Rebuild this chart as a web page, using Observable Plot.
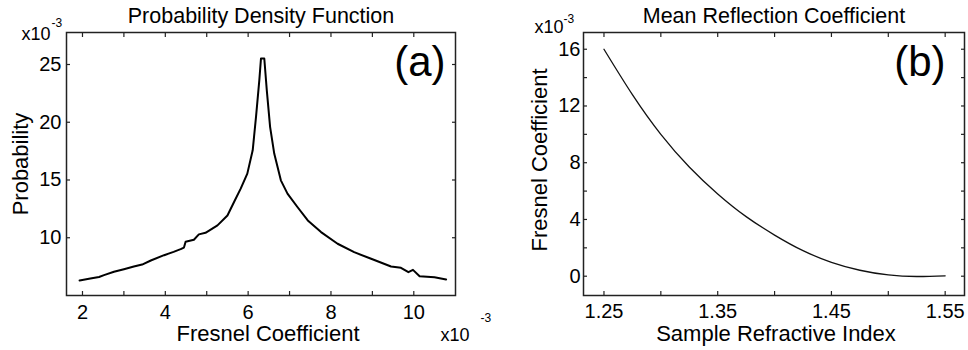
<!DOCTYPE html>
<html>
<head>
<meta charset="utf-8">
<script src="https://cdn.jsdelivr.net/npm/d3@7"></script>
<script src="https://cdn.jsdelivr.net/npm/@observablehq/plot@0.6"></script>
<style>
  html, body { margin: 0; padding: 0; background: #fff; }
  #wrap { display: flex; width: 968px; height: 350px; }
  #wrap svg { display: block; }
</style>
</head>
<body>
<div id="wrap"></div>
<script>
// ---------- Panel (a): Probability Density Function ----------
const fresnelA = [1.93, 2.19, 2.40, 2.52, 2.76, 3.00, 3.24, 3.44, 3.65, 3.97, 4.20, 4.37, 4.45, 4.49, 4.69, 4.81, 4.97, 5.26, 5.50, 5.66, 5.82, 5.98, 6.11, 6.19, 6.27, 6.31, 6.39, 6.45, 6.53, 6.63, 6.79, 6.95, 7.19, 7.44, 7.76, 8.16, 8.56, 8.97, 9.45, 9.69, 9.87, 9.98, 10.14, 10.50, 10.78];
const probA = [6.30, 6.47, 6.60, 6.76, 7.05, 7.28, 7.51, 7.68, 8.03, 8.49, 8.78, 9.01, 9.15, 9.65, 9.83, 10.29, 10.43, 11.07, 11.93, 13.09, 14.25, 15.55, 17.57, 20.46, 23.64, 25.52, 25.52, 22.78, 19.60, 17.29, 14.97, 13.82, 12.66, 11.50, 10.49, 9.48, 8.75, 8.18, 7.51, 7.40, 7.02, 7.22, 6.67, 6.58, 6.38];
const xTicksA = [2, 3, 4, 5, 6, 7, 8, 9, 10];
const xLabelsA = [2, 4, 6, 8, 10];
const yTicksA = [10, 15, 20, 25];

// ---------- Panel (b): Mean Reflection Coefficient ----------
const indexB = [1.25, 1.275, 1.30, 1.325, 1.35, 1.375, 1.40, 1.425, 1.45, 1.475, 1.50, 1.525, 1.55];
const coefB = [16.0, 12.8, 10.0, 7.7, 5.8, 4.2, 2.9, 1.8, 0.98, 0.42, 0.09, -0.02, 0.03];
const xTicksB = [1.25, 1.30, 1.35, 1.40, 1.45, 1.50, 1.55];
const xLabelsB = [1.25, 1.35, 1.45, 1.55];
const yTicksB = [0, 2, 4, 6, 8, 10, 12, 14, 16];
const yLabelsB = [0, 4, 8, 12, 16];

const FONT = "Liberation Sans, Arial, Helvetica, sans-serif";
const FRAME = "#222";

function inwardTicks(xt, yt) {
  const o = {tickSize: -4, tickFormat: () => "", label: null, stroke: FRAME, strokeWidth: 1.2, fontFamily: FONT};
  return [
    Plot.axisX(xt, {anchor: "bottom", ...o}),
    Plot.axisX(xt, {anchor: "top", ...o}),
    Plot.axisY(yt, {anchor: "left", ...o}),
    Plot.axisY(yt, {anchor: "right", ...o})
  ];
}
function txt(extra) {
  return {textAnchor: "middle", lineAnchor: "middle", fontFamily: FONT, fill: "#000", ...extra};
}

// Panel a
const dataA = fresnelA.map((x, i) => ({x, y: probA[i]}));
const plotA = Plot.plot({
  width: 500, height: 350,
  marginTop: 32, marginRight: 45, marginBottom: 55, marginLeft: 66,
  x: {domain: [1.614, 11.007]},
  y: {domain: [5.0, 27.77]},
  marks: [
    Plot.axisX(xLabelsA, {anchor: "bottom", tickSize: 0, tickPadding: 9, label: null, fontSize: 20, fontFamily: FONT, fill: "#000", tickFormat: d => d}),
    Plot.axisY(yTicksA, {anchor: "left", tickSize: 0, tickPadding: 5, label: null, fontSize: 20, fontFamily: FONT, fill: "#000", tickFormat: d => d}),
    Plot.line(dataA, {x: "x", y: "y", stroke: "#000", strokeWidth: 2}),
    Plot.text(["Probability Density Function"], txt({frameAnchor: "top", dy: -16, fontSize: 21.5})),
    Plot.text(["Fresnel Coefficient"], txt({frameAnchor: "bottom", dy: 38, dx: 7, fontSize: 22})),
    Plot.text(["Probability"], txt({frameAnchor: "left", rotate: -90, dx: -46, fontSize: 22})),
    Plot.text(["(a)"], txt({frameAnchor: "top-right", textAnchor: "end", lineAnchor: "top", dx: -10, dy: 14, fontSize: 42})),
    Plot.text(["x10"], txt({frameAnchor: "top-left", textAnchor: "end", dx: -16, dy: 1.5, fontSize: 18})),
    Plot.text(["-3"], txt({frameAnchor: "top-left", textAnchor: "start", dx: -15, dy: -9.5, fontSize: 12})),
    Plot.text(["x10"], txt({frameAnchor: "bottom-right", textAnchor: "start", dx: -15, dy: 40, fontSize: 18})),
    Plot.text(["-3"], txt({frameAnchor: "bottom-right", textAnchor: "start", dx: 25, dy: 22.5, fontSize: 12})),
    ...inwardTicks(xTicksA, yTicksA),
    Plot.frame({stroke: FRAME, strokeWidth: 1.5})
  ]
});

// Panel b
const dataB = indexB.map((x, i) => ({x, y: coefB[i]}));
const plotB = Plot.plot({
  width: 468, height: 350,
  marginTop: 32, marginRight: 4, marginBottom: 55, marginLeft: 83,
  x: {domain: [1.232, 1.567]},
  y: {domain: [-1.36, 17.18]},
  marks: [
    Plot.axisX(xLabelsB, {anchor: "bottom", tickSize: 0, tickPadding: 8, label: null, fontSize: 20, fontFamily: FONT, fill: "#000", tickFormat: d => d.toFixed(2)}),
    Plot.axisY(yLabelsB, {anchor: "left", tickSize: 0, tickPadding: 3, label: null, fontSize: 20, fontFamily: FONT, fill: "#000", tickFormat: d => d}),
    Plot.line(dataB, {x: "x", y: "y", stroke: "#111", strokeWidth: 1.3, curve: "natural"}),
    Plot.text(["Mean Reflection Coefficient"], txt({frameAnchor: "top", dy: -16, fontSize: 21.5})),
    Plot.text(["Sample Refractive Index"], txt({frameAnchor: "bottom", dy: 38, dx: 2, fontSize: 22})),
    Plot.text(["Fresnel Coefficient"], txt({frameAnchor: "left", rotate: -90, dx: -44, dy: -4, fontSize: 22})),
    Plot.text(["(b)"], txt({frameAnchor: "top-right", textAnchor: "end", lineAnchor: "top", dx: -19, dy: 14, fontSize: 42})),
    Plot.text(["x10"], txt({frameAnchor: "top-left", textAnchor: "end", dx: -20, dy: -5, fontSize: 18})),
    Plot.text(["-3"], txt({frameAnchor: "top-left", textAnchor: "start", dx: -20, dy: -13, fontSize: 12})),
    ...inwardTicks(xTicksB, yTicksB),
    Plot.frame({stroke: FRAME, strokeWidth: 1.5})
  ]
});

const wrap = document.getElementById("wrap");
wrap.appendChild(plotA);
wrap.appendChild(plotB);
</script>
</body>
</html>
